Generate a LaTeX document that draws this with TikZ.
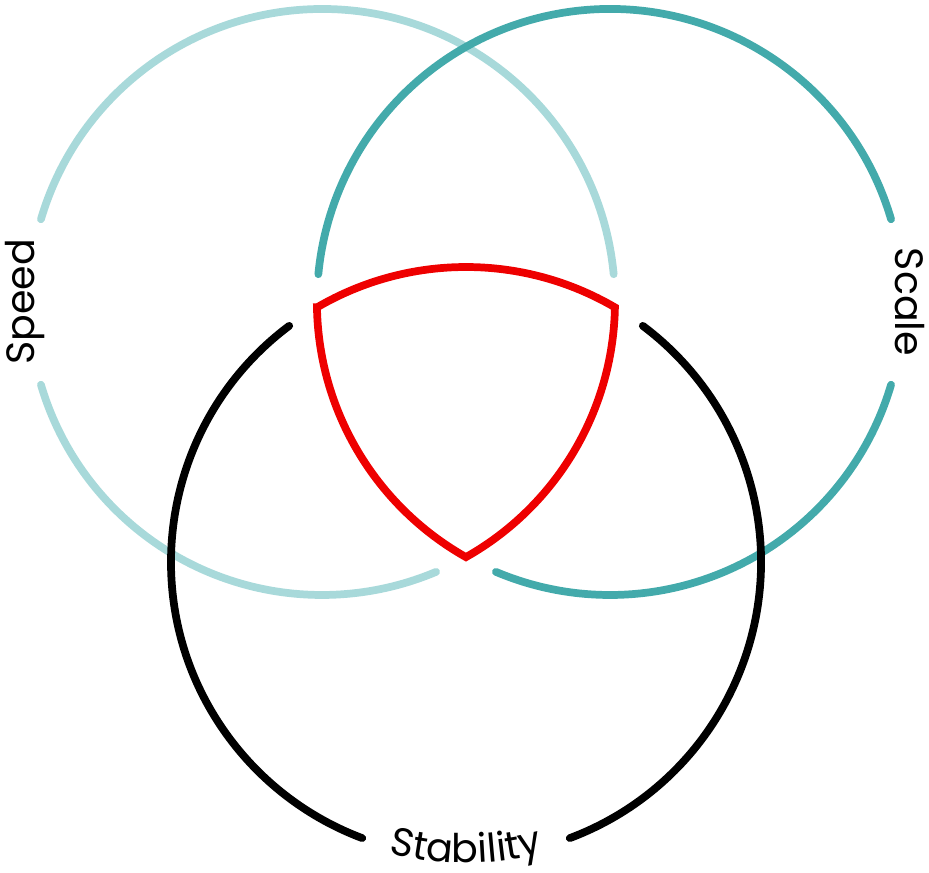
\documentclass[tikz,border=0pt]{standalone}
\usepackage{fontspec}
\setmainfont{Poppins}
\usetikzlibrary{decorations.text}
\definecolor{speedcol}{HTML}{A8D9DA}
\definecolor{scalecol}{HTML}{43AAAB}
\definecolor{corecol}{HTML}{EE0000}

\begin{document}
\begin{tikzpicture}[x=0.02cm, y=0.02cm, line cap=round,
  ring/.style={line width=4.4pt},
  lbl/.style={font=\fontsize{22.5}{22.5}\selectfont}]
  \def\gap{6.5}
  \useasboundingbox (0,0) rectangle (929,872);
  \coordinate (speedC) at (322,570);
  \coordinate (scaleC) at (610,570);
  \coordinate (stabC) at (466,310);
  % Speed circle
  \draw[ring, speedcol] (speedC) ++({-1.06+\gap}:293)
    arc[start angle={-1.06+\gap}, end angle=163.6, radius=293];
  \draw[ring, speedcol] (speedC) ++(196.4:293)
    arc[start angle=196.4, end angle={299.43-\gap}, radius=293];
  % Scale circle
  \draw[ring, scalecol] (scaleC) ++(16.4:293)
    arc[start angle=16.4, end angle={181.06-\gap}, radius=293];
  \draw[ring, scalecol] (scaleC) ++({240.57+\gap}:293)
    arc[start angle={240.57+\gap}, end angle=343.6, radius=293];
  % Stability circle
  \draw[ring, black] (stabC) ++({120.32+\gap}:295)
    arc[start angle={120.32+\gap}, end angle=249.4, radius=295];
  \draw[ring, black] (stabC) ++(290.6:295)
    arc[start angle=290.6, end angle={419.68-\gap}, radius=295];
  % shared core
  \draw[ring, corecol, line join=miter] (stabC) ++(120.32:295)
    arc[start angle=120.32, end angle=59.68, radius=295]
    arc[start angle=-1.06, end angle=-60.57, radius=293]
    arc[start angle=240.57, end angle=181.06, radius=293] -- cycle;
  % labels
  \node[lbl, rotate=90] (speedLbl) at (25,570) {Speed};
  \node[lbl, rotate=-90] (scaleLbl) at (910,570) {Scale};
  \path[decorate, decoration={text along path, text align=center,
      text={|\fontsize{22.5}{22.5}\selectfont|Stability}}]
    (stabC) ++(240:301) arc[start angle=240, end angle=300, radius=301];
\end{tikzpicture}
\end{document}
